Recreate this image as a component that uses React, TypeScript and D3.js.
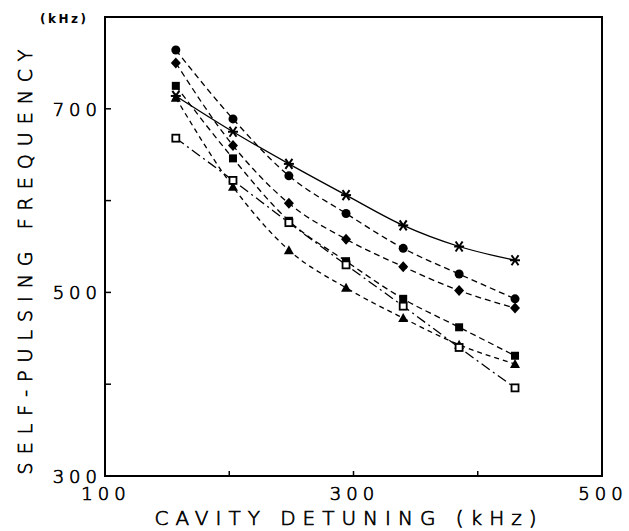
import React from "react";
import * as d3 from "d3";

const detuning = [157, 203, 248, 294, 340, 385, 430];
const circleSeries = [764, 689, 627, 586, 548, 520, 493];
const diamondSeries = [750, 660, 597, 558, 528, 502, 483];
const starSeries = [714, 675, 640, 606, 573, 550, 535];
const filledSquareSeries = [725, 646, 578, 534, 493, 462, 431];
const triangleSeries = [712, 615, 546, 505, 472, 443, 422];
const openSquareSeries = [668, 622, 576, 530, 485, 440, 396];
const xTicks = [100, 300, 500];
const xMinor = [200, 400];
const yTicks = [300, 500, 700];
const yMinor = [400, 600];

const W = 629, H = 531;
const L = 105, R = 602, T = 17, B = 476;

export default function App() {
  const x = d3.scaleLinear().domain([100, 500]).range([L, R]);
  const y = d3.scaleLinear().domain([300, 800]).range([B, T]);
  const line = d3
    .line<number>()
    .x((_, i) => x(detuning[i]))
    .y((v) => y(v))
    .curve(d3.curveMonotoneX);

  const font = "'DejaVu Sans', sans-serif";
  const txt = { fontFamily: font, fontWeight: 200, fill: "#000", stroke: "#000", strokeWidth: 0.7 } as const;
  const series = [
    { data: starSeries, dash: "none", marker: "star" },
    { data: circleSeries, dash: "6,4", marker: "circle" },
    { data: diamondSeries, dash: "6,4", marker: "diamond" },
    { data: filledSquareSeries, dash: "6,4", marker: "fsquare" },
    { data: triangleSeries, dash: "5,4", marker: "triangle" },
    { data: openSquareSeries, dash: "10,4,2,4", marker: "osquare" },
  ];

  const marker = (m: string, cx: number, cy: number, k: string) => {
    switch (m) {
      case "circle":
        return <circle key={k} cx={cx} cy={cy} r={4.5} fill="#000" />;
      case "diamond":
        return <path key={k} d={`M${cx},${cy - 5.5}L${cx + 5},${cy}L${cx},${cy + 5.5}L${cx - 5},${cy}Z`} fill="#000" />;
      case "fsquare":
        return <rect key={k} x={cx - 4} y={cy - 4} width={8} height={8} fill="#000" />;
      case "osquare":
        return <rect key={k} x={cx - 3.5} y={cy - 3.5} width={7} height={7} fill="#fff" stroke="#000" strokeWidth={1.8} />;
      case "triangle":
        return <path key={k} d={`M${cx},${cy - 5}L${cx + 5},${cy + 4}L${cx - 5},${cy + 4}Z`} fill="#000" />;
      case "star":
        return (
          <g key={k} stroke="#000" strokeWidth={2}>
            <line x1={cx - 5} y1={cy} x2={cx + 5} y2={cy} />
            <line x1={cx - 3.5} y1={cy - 5} x2={cx + 3.5} y2={cy + 5} />
            <line x1={cx + 3.5} y1={cy - 5} x2={cx - 3.5} y2={cy + 5} />
          </g>
        );
    }
    return null;
  };

  return (
    <svg width={W} height={H} style={{ position: "absolute", left: 0, top: 0, background: "#fff" }}>
      <rect x={0} y={0} width={W} height={H} fill="#fff" />
      <rect x={L} y={T} width={R - L} height={B - T} fill="none" stroke="#000" strokeWidth={2} />
      {xTicks.concat(xMinor).map((t) => (
        <line key={"xt" + t} x1={x(t)} x2={x(t)} y1={B} y2={B - 5} stroke="#000" strokeWidth={1.5} />
      ))}
      {yTicks.concat(yMinor).map((t) => (
        <line key={"yt" + t} x1={L} x2={L + 6} y1={y(t)} y2={y(t)} stroke="#000" strokeWidth={1.5} />
      ))}
      {series.map((s, si) => (
        <path key={"l" + si} d={line(s.data) || ""} fill="none" stroke="#000" strokeWidth={1.3} strokeDasharray={s.dash} />
      ))}
      {series.map((s, si) => s.data.map((v, i) => marker(s.marker, x(detuning[i]), y(v), `m${si}-${i}`)))}
      {xTicks.map((t) => (
        <text key={"xl" + t} x={x(t) + 1} y={500} textAnchor="middle" fontSize={18} letterSpacing={5} {...txt}>
          {t}
        </text>
      ))}
      {yTicks.map((t) => (
        <text key={"yl" + t} x={102} y={y(t) + 7} textAnchor="end" fontSize={18} letterSpacing={5} {...txt}>
          {t}
        </text>
      ))}
      <text x={40} y={23} fontFamily={font} fontSize={12} fontWeight={700} letterSpacing={2.5}>(kHz)</text>
      <text x={349} y={525} textAnchor="middle" fontSize={20} letterSpacing={7} {...txt}>
        CAVITY DETUNING (kHz)
      </text>
      <text transform="translate(32,258) rotate(-90)" textAnchor="middle" fontSize={19} letterSpacing={8} {...txt}>
        SELF-PULSING FREQUENCY
      </text>
    </svg>
  );
}
